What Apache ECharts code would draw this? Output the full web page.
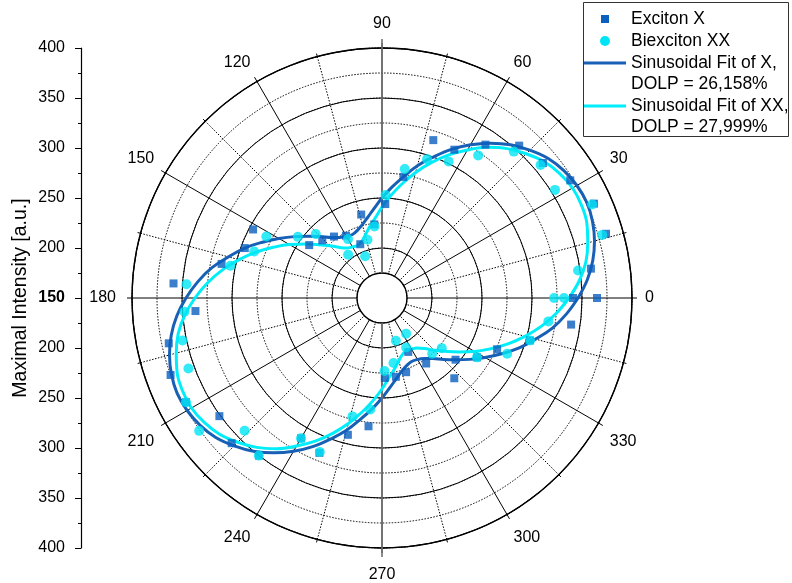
<!DOCTYPE html>
<html><head><meta charset="utf-8">
<script src="https://cdn.jsdelivr.net/npm/echarts@6/dist/echarts.min.js"></script>
<style>html,body{margin:0;padding:0;background:#fff}#c{width:792px;height:583px}</style>
</head><body><div id="c"></div>
<script>
// ---- data ----
const measAngles = [0,8,16,24,32,40,48,56,64,72,80,88,96,104,112,120,128,136,144,152,160,168,176,184,192,200,208,216,224,232,240,248,256,264,272,280,288,296,304,312,320,328,336,344,352,360];
const excitonX = [365,361,383,382,372,360,355,335,315,316,273,244,224,236,208,222,228,233,240,296,296,314,359,337,368,375,372,351,359,350,312,317,291,279,230,230,228,210,229,258,246,262,276,304,341,341];
const biexcitonXX = [322,348,379,380,354,357,347,322,302,296,281,253,222,210,195,218,205,242,254,281,286,305,346,348,354,356,372,376,341,350,312,316,272,262,223,216,195,205,193,225,228,262,287,304,318,332];
const fitAngles = [0,5,10,15,20,25,30,35,40,45,50,55,60,65,70,75,80,85,90,95,100,105,110,115,120,125,130,135,140,145,150,155,160,165,170,175,180,185,190,195,200,205,210,215,220,225,230,235,240,245,250,255,260,265,270,275,280,285,290,295,300,305,310,315,320,325,330,335,340,345,350,355,360];
const fitX = [346,356,364,370,374,376,375,372,367,359,350,339,327,314,300,287,273,261,250,240,232,226,222,220,221,224,229,237,246,257,269,282,296,309,323,335,346,356,364,370,374,376,375,372,367,359,350,339,327,314,300,287,273,261,250,240,232,226,222,220,221,224,229,237,246,257,269,282,296,309,323,335,346];
const fitXX = [337,348,357,363,368,370,370,367,362,354,345,334,321,308,294,280,266,253,241,230,222,215,210,208,209,211,216,224,233,244,257,270,284,298,312,325,337,348,357,363,368,370,370,367,362,354,345,334,321,308,294,280,266,253,241,230,222,215,210,208,209,211,216,224,233,244,257,270,284,298,312,325,337];
const angleLabels = ['0','30','60','90','120','150','180','210','240','270','300','330'];
const intensityLabels = ['400','350','300','250','200','150','200','250','300','350','400']; // bottom to top
const legendNames = ['Exciton X','Biexciton XX','Sinusoidal Fit of X,','DOLP = 26,158%','Sinusoidal Fit of XX,','DOLP = 27,999%'];

const FONT = 'Liberation Sans, Arial, sans-serif';
const colX = '#0a5fbf', colXX = '#00e5f5', colFitX = '#1860b5', colFitXX = '#00eefa';
const C = [382, 298];

const chart = echarts.init(document.getElementById('c'), null, {renderer:'canvas'});
const dotted = {color:'#000', width:1, type:[1.5,1.5]};
const lblBase = {fontSize:16, fontFamily:FONT, color:'#000'};

const option = {
  backgroundColor:'#fff',
  animation:false,
  polar:[
    {center:C, radius:[25,250]},
    {center:C, radius:[50,250]},
    {center:C, radius:[25,250]}
  ],
  angleAxis:[
    {polarIndex:0, type:'value', min:0, max:360, interval:30, startAngle:0, clockwise:false,
     axisLine:{show:true, lineStyle:{color:'#000', width:1.4}},
     axisTick:{show:true, length:5, lineStyle:{color:'#000', width:1}},
     minorTick:{show:true, splitNumber:2, length:3, lineStyle:{color:'#000', width:1}},
     splitLine:{show:true, lineStyle:{color:'#000', width:1}},
     minorSplitLine:{show:true, lineStyle:dotted},
     axisLabel:{margin:13, color:'#000', fontSize:16, fontFamily:FONT,
       formatter:function(v){
         const i = Math.round(v/30);
         if (i >= angleLabels.length) return '';
         const t = angleLabels[i];
         if (i === 3) return '{hi|'+t+'}';
         if (i === 9) return '{lo2|'+t+'}';
         if (i === 6) return '{l|'+t+'}';
         if (i > 6) return '{lo|'+t+'}';
         return t;
       },
       rich:{
         hi:Object.assign({padding:[0,0,3,0]}, lblBase),
         lo:Object.assign({padding:[4,0,0,0]}, lblBase),
         lo2:Object.assign({padding:[6,0,0,0]}, lblBase),
         l:Object.assign({padding:[0,3,0,0]}, lblBase)
       }}},
    {polarIndex:1, type:'value', min:0, max:360, startAngle:0, clockwise:false,
     axisLine:{show:false}, axisTick:{show:false}, axisLabel:{show:false}, splitLine:{show:false}},
    {polarIndex:2, type:'value', min:0, max:360, interval:180, startAngle:90, clockwise:false, z:3,
     axisLine:{show:false}, axisLabel:{show:false},
     axisTick:{show:true, length:9, lineStyle:{color:'#707070', width:1.6}},
     splitLine:{show:true, lineStyle:{color:'#707070', width:1.6}}}
  ],
  radiusAxis:[
    {polarIndex:0, type:'value', min:175, max:400, interval:25,
     axisLine:{show:false}, axisTick:{show:false}, axisLabel:{show:false},
     splitLine:{show:true, lineStyle:dotted}},
    {polarIndex:1, type:'value', min:200, max:400, interval:50,
     axisLine:{show:false}, axisTick:{show:false}, axisLabel:{show:false},
     splitLine:{show:true, lineStyle:{color:'#000', width:1}}},
    {polarIndex:2, type:'value', min:175, max:400, show:false}
  ],
  grid:{left:81, top:48, width:1, height:500, show:false},
  xAxis:{type:'value', show:false, min:0, max:1},
  yAxis:{type:'value', min:-250, max:250, interval:50, position:'left',
    axisLine:{show:true, lineStyle:{color:'#000', width:1.2}},
    axisTick:{show:true, length:6, lineStyle:{color:'#000', width:1}},
    minorTick:{show:true, splitNumber:2, length:3, lineStyle:{color:'#000', width:1}},
    splitLine:{show:false}, minorSplitLine:{show:false},
    axisLabel:{margin:16, fontSize:16, color:'#000', fontFamily:FONT,
      formatter:function(v){ const i = Math.round((v+250)/50); const t = intensityLabels[i]; return v===0 ? '{b|'+t+'}' : t; },
      rich:{b:{fontWeight:'bold', fontSize:16, fontFamily:FONT, color:'#000'}}},
    name:'Maximal Intensity [a.u.]', nameLocation:'middle', nameGap:50,
    nameTextStyle:{fontSize:19.5, color:'#000', fontFamily:FONT}},
  series:[
    {name:'Sinusoidal Fit of X', type:'line', coordinateSystem:'polar', polarIndex:0, smooth:0.4,
     showSymbol:false, symbol:'none', z:2, lineStyle:{color:colFitX, width:3},
     data:fitAngles.map((a,i)=>[fitX[i], a])},
    {name:'Sinusoidal Fit of XX', type:'line', coordinateSystem:'polar', polarIndex:0, smooth:0.4,
     showSymbol:false, symbol:'none', z:3, lineStyle:{color:colFitXX, width:3},
     data:fitAngles.map((a,i)=>[fitXX[i], a])},
    {name:'Exciton X', type:'scatter', coordinateSystem:'polar', polarIndex:0, symbol:'rect', symbolSize:8, z:4,
     itemStyle:{color:colX}, data:measAngles.map((a,i)=>[excitonX[i], a])},
    {name:'Biexciton XX', type:'scatter', coordinateSystem:'polar', polarIndex:0, symbol:'circle', symbolSize:10, z:5,
     itemStyle:{color:colXX}, data:measAngles.map((a,i)=>[biexcitonXX[i], a])}
  ],
  graphic:[
    {type:'rect', z:10, shape:{x:583.5, y:2.5, width:205, height:134}, style:{fill:'#fff', stroke:'#333', lineWidth:1}},
    {type:'rect', z:11, shape:{x:601, y:15, width:8, height:8}, style:{fill:colX}},
    {type:'circle', z:11, shape:{cx:605, cy:41, r:5}, style:{fill:colXX}},
    {type:'line', z:11, shape:{x1:584, y1:63, x2:626, y2:63}, style:{stroke:colFitX, lineWidth:3}},
    {type:'line', z:11, shape:{x1:584, y1:106, x2:626, y2:106}, style:{stroke:colFitXX, lineWidth:3}}
  ].concat(legendNames.map((t,i)=>({type:'text', z:11, style:{text:t, x:631, y:[19,41,63,84,106,127][i],
      fill:'#000', fontSize:17.5, fontFamily:FONT, verticalAlign:'middle', align:'left'}})))
};
chart.setOption(option);
</script></body></html>
